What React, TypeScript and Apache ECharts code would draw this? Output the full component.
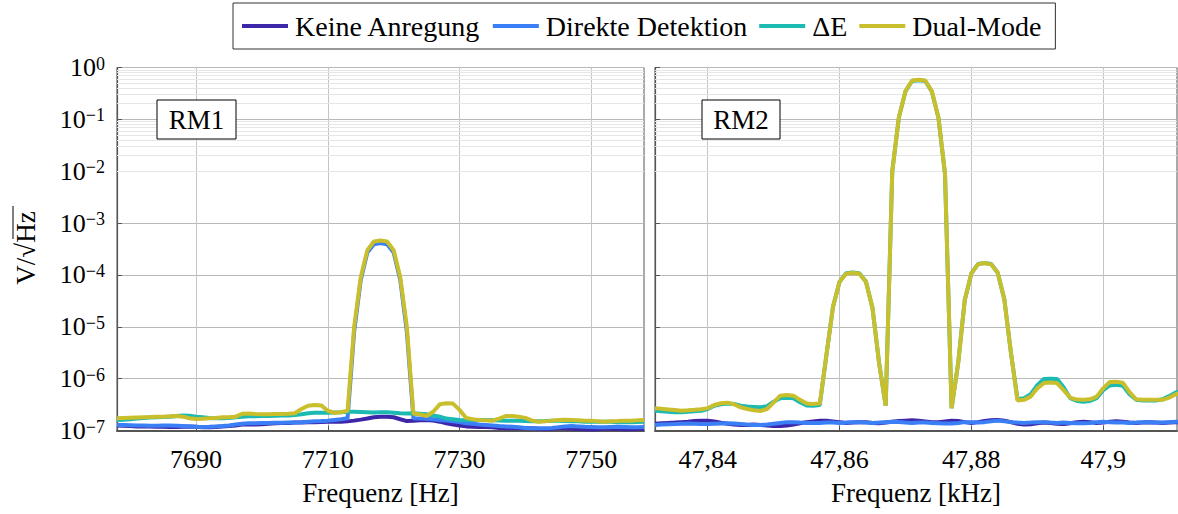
import React, { useEffect, useRef } from 'react';
import * as echarts from 'echarts';

const FONT = 'Liberation Serif, DejaVu Serif, serif';

const seriesNames = ['Keine Anregung', 'Direkte Detektion', 'ΔE', 'Dual-Mode'];
const seriesColors = ['#3e26a8', '#3a7ff6', '#1bbab3', '#c9bf2c'];

const rm1TickValues = [7690, 7710, 7730, 7750];
const rm2TickValues = [47.84, 47.86, 47.88, 47.9];

const rm1Freq = [
  7678, 7679, 7680, 7681, 7682, 7683, 7684, 7685, 7686, 7687,
  7688, 7689, 7690, 7691, 7692, 7693, 7694, 7695, 7696, 7697,
  7698, 7699, 7700, 7701, 7702, 7703, 7704, 7705, 7706, 7707,
  7708, 7709, 7710, 7711, 7712, 7713, 7714, 7715, 7716, 7717,
  7718, 7719, 7720, 7721, 7722, 7723, 7724, 7725, 7726, 7727,
  7728, 7729, 7730, 7731, 7732, 7733, 7734, 7735, 7736, 7737,
  7738, 7739, 7740, 7741, 7742, 7743, 7744, 7745, 7746, 7747,
  7748, 7749, 7750, 7751, 7752, 7753, 7754, 7755, 7756, 7757,
  7758,
];

const rm1Keine = [
  1.25e-7, 1.24e-7, 1.22e-7, 1.2e-7, 1.2e-7, 1.2e-7, 1.18e-7, 1.18e-7, 1.17e-7, 1.17e-7,
  1.18e-7, 1.2e-7, 1.18e-7, 1.15e-7, 1.15e-7, 1.17e-7, 1.2e-7, 1.22e-7, 1.25e-7, 1.3e-7,
  1.32e-7, 1.3e-7, 1.32e-7, 1.35e-7, 1.38e-7, 1.4e-7, 1.4e-7, 1.42e-7, 1.42e-7, 1.45e-7,
  1.45e-7, 1.46e-7, 1.47e-7, 1.47e-7, 1.48e-7, 1.5e-7, 1.55e-7, 1.62e-7, 1.7e-7, 1.8e-7,
  1.85e-7, 1.85e-7, 1.8e-7, 1.65e-7, 1.52e-7, 1.55e-7, 1.58e-7, 1.6e-7, 1.55e-7, 1.48e-7,
  1.38e-7, 1.3e-7, 1.25e-7, 1.2e-7, 1.18e-7, 1.17e-7, 1.17e-7, 1.15e-7, 1.12e-7, 1.1e-7,
  1.1e-7, 1.1e-7, 1.1e-7, 1.1e-7, 1.08e-7, 1.07e-7, 1.08e-7, 1.1e-7, 1.1e-7, 1.08e-7,
  1.07e-7, 1.06e-7, 1.05e-7, 1.06e-7, 1.08e-7, 1.08e-7, 1.07e-7, 1.06e-7, 1.06e-7, 1.07e-7,
  1.08e-7,
];

const rm1Direkt = [
  1.28e-7, 1.27e-7, 1.26e-7, 1.25e-7, 1.25e-7, 1.24e-7, 1.24e-7, 1.25e-7, 1.25e-7, 1.24e-7,
  1.22e-7, 1.2e-7, 1.18e-7, 1.17e-7, 1.18e-7, 1.2e-7, 1.22e-7, 1.25e-7, 1.3e-7, 1.35e-7,
  1.38e-7, 1.38e-7, 1.4e-7, 1.4e-7, 1.41e-7, 1.41e-7, 1.42e-7, 1.43e-7, 1.45e-7, 1.48e-7,
  1.5e-7, 1.52e-7, 1.55e-7, 1.6e-7, 1.65e-7, 1.72e-7, 8e-6, 8e-5, 2.7e-4, 3.9e-4,
  4.1e-4, 3.9e-4, 2.7e-4, 8e-5, 8e-6, 1.72e-7, 1.7e-7, 1.68e-7, 1.65e-7, 1.6e-7,
  1.55e-7, 1.5e-7, 1.45e-7, 1.38e-7, 1.35e-7, 1.3e-7, 1.28e-7, 1.25e-7, 1.22e-7, 1.2e-7,
  1.18e-7, 1.15e-7, 1.12e-7, 1.1e-7, 1.1e-7, 1.1e-7, 1.12e-7, 1.15e-7, 1.2e-7, 1.22e-7,
  1.2e-7, 1.18e-7, 1.17e-7, 1.15e-7, 1.15e-7, 1.17e-7, 1.18e-7, 1.17e-7, 1.15e-7, 1.15e-7,
  1.17e-7,
];

const rm1Delta = [
  1.6e-7, 1.62e-7, 1.65e-7, 1.7e-7, 1.75e-7, 1.78e-7, 1.8e-7, 1.82e-7, 1.85e-7, 1.9e-7,
  1.95e-7, 1.93e-7, 1.85e-7, 1.8e-7, 1.75e-7, 1.72e-7, 1.72e-7, 1.75e-7, 1.8e-7, 1.85e-7,
  1.88e-7, 1.88e-7, 1.9e-7, 1.9e-7, 1.92e-7, 1.95e-7, 1.95e-7, 2.0e-7, 2.05e-7, 2.15e-7,
  2.2e-7, 2.2e-7, 2.2e-7, 2.22e-7, 2.25e-7, 2.3e-7, 2.3e-7, 2.28e-7, 2.25e-7, 2.22e-7,
  2.25e-7, 2.25e-7, 2.2e-7, 2.15e-7, 2.12e-7, 2.15e-7, 2.1e-7, 2.05e-7, 1.95e-7, 1.85e-7,
  1.7e-7, 1.65e-7, 1.6e-7, 1.58e-7, 1.6e-7, 1.6e-7, 1.6e-7, 1.58e-7, 1.56e-7, 1.55e-7,
  1.55e-7, 1.55e-7, 1.52e-7, 1.5e-7, 1.5e-7, 1.52e-7, 1.55e-7, 1.55e-7, 1.53e-7, 1.5e-7,
  1.5e-7, 1.48e-7, 1.47e-7, 1.47e-7, 1.48e-7, 1.47e-7, 1.45e-7, 1.45e-7, 1.45e-7, 1.46e-7,
  1.47e-7,
];

const rm1Dual = [
  1.72e-7, 1.74e-7, 1.76e-7, 1.78e-7, 1.8e-7, 1.82e-7, 1.85e-7, 1.85e-7, 1.88e-7, 1.9e-7,
  1.85e-7, 1.72e-7, 1.67e-7, 1.68e-7, 1.72e-7, 1.75e-7, 1.8e-7, 1.8e-7, 1.85e-7, 2.1e-7,
  2.12e-7, 2.08e-7, 2.05e-7, 2.05e-7, 2.07e-7, 2.08e-7, 2.1e-7, 2.15e-7, 2.6e-7, 3.0e-7,
  3.1e-7, 3.05e-7, 2.4e-7, 2.2e-7, 2.25e-7, 2.4e-7, 1e-5, 9e-5, 3e-4, 4.4e-4,
  4.6e-4, 4.4e-4, 3e-4, 9e-5, 1e-5, 2.1e-7, 2.05e-7, 1.9e-7, 2.3e-7, 3.2e-7,
  3.35e-7, 3.3e-7, 2.5e-7, 1.75e-7, 1.65e-7, 1.6e-7, 1.58e-7, 1.55e-7, 1.7e-7, 1.9e-7,
  1.9e-7, 1.85e-7, 1.75e-7, 1.55e-7, 1.48e-7, 1.5e-7, 1.55e-7, 1.6e-7, 1.62e-7, 1.6e-7,
  1.58e-7, 1.55e-7, 1.55e-7, 1.5e-7, 1.48e-7, 1.5e-7, 1.52e-7, 1.55e-7, 1.55e-7, 1.57e-7,
  1.6e-7,
];

const rm2Freq = [
  47.832, 47.833, 47.834, 47.835, 47.836, 47.837, 47.838, 47.839, 47.84, 47.841,
  47.842, 47.843, 47.844, 47.845, 47.846, 47.847, 47.848, 47.849, 47.85, 47.851,
  47.852, 47.853, 47.854, 47.855, 47.856, 47.857, 47.858, 47.859, 47.86, 47.861,
  47.862, 47.863, 47.864, 47.865, 47.866, 47.867, 47.868, 47.869, 47.87, 47.871,
  47.872, 47.873, 47.874, 47.875, 47.876, 47.877, 47.878, 47.879, 47.88, 47.881,
  47.882, 47.883, 47.884, 47.885, 47.886, 47.887, 47.888, 47.889, 47.89, 47.891,
  47.892, 47.893, 47.894, 47.895, 47.896, 47.897, 47.898, 47.899, 47.9, 47.901,
  47.902, 47.903, 47.904, 47.905, 47.906, 47.907, 47.908, 47.909, 47.91, 47.911,
  47.912,
];

const rm2Keine = [
  1.35e-7, 1.38e-7, 1.4e-7, 1.42e-7, 1.45e-7, 1.48e-7, 1.52e-7, 1.55e-7, 1.55e-7, 1.5e-7,
  1.42e-7, 1.35e-7, 1.3e-7, 1.28e-7, 1.28e-7, 1.3e-7, 1.28e-7, 1.25e-7, 1.22e-7, 1.22e-7,
  1.25e-7, 1.3e-7, 1.38e-7, 1.45e-7, 1.5e-7, 1.55e-7, 1.55e-7, 1.5e-7, 1.45e-7, 1.4e-7,
  1.42e-7, 1.45e-7, 1.45e-7, 1.4e-7, 1.38e-7, 1.42e-7, 1.48e-7, 1.52e-7, 1.55e-7, 1.58e-7,
  1.55e-7, 1.5e-7, 1.45e-7, 1.45e-7, 1.5e-7, 1.55e-7, 1.52e-7, 1.45e-7, 1.4e-7, 1.45e-7,
  1.52e-7, 1.58e-7, 1.6e-7, 1.55e-7, 1.45e-7, 1.35e-7, 1.3e-7, 1.32e-7, 1.38e-7, 1.42e-7,
  1.4e-7, 1.35e-7, 1.33e-7, 1.38e-7, 1.45e-7, 1.48e-7, 1.45e-7, 1.4e-7, 1.42e-7, 1.48e-7,
  1.5e-7, 1.48e-7, 1.42e-7, 1.4e-7, 1.42e-7, 1.45e-7, 1.42e-7, 1.4e-7, 1.42e-7, 1.45e-7,
  1.45e-7,
];

const rm2Direkt = [
  1.28e-7, 1.3e-7, 1.32e-7, 1.33e-7, 1.35e-7, 1.36e-7, 1.35e-7, 1.33e-7, 1.33e-7, 1.35e-7,
  1.37e-7, 1.38e-7, 1.36e-7, 1.33e-7, 1.3e-7, 1.28e-7, 1.28e-7, 1.3e-7, 1.35e-7, 1.4e-7,
  1.45e-7, 1.45e-7, 1.42e-7, 1.4e-7, 1.4e-7, 1.4e-7, 1.42e-7, 1.42e-7, 1.4e-7, 1.42e-7,
  1.45e-7, 1.45e-7, 1.42e-7, 1.4e-7, 1.42e-7, 1.45e-7, 1.48e-7, 1.46e-7, 1.42e-7, 1.4e-7,
  1.42e-7, 1.42e-7, 1.4e-7, 1.38e-7, 1.36e-7, 1.36e-7, 1.4e-7, 1.45e-7, 1.45e-7, 1.42e-7,
  1.45e-7, 1.5e-7, 1.55e-7, 1.5e-7, 1.45e-7, 1.42e-7, 1.4e-7, 1.42e-7, 1.45e-7, 1.45e-7,
  1.42e-7, 1.4e-7, 1.42e-7, 1.4e-7, 1.38e-7, 1.38e-7, 1.4e-7, 1.45e-7, 1.48e-7, 1.45e-7,
  1.42e-7, 1.42e-7, 1.4e-7, 1.42e-7, 1.45e-7, 1.45e-7, 1.42e-7, 1.42e-7, 1.45e-7, 1.48e-7,
  1.48e-7,
];

const rm2Delta = [
  2.4e-7, 2.35e-7, 2.3e-7, 2.25e-7, 2.25e-7, 2.3e-7, 2.35e-7, 2.4e-7, 2.6e-7, 3.0e-7,
  3.2e-7, 3.3e-7, 3.25e-7, 3.0e-7, 2.9e-7, 2.85e-7, 2.8e-7, 2.95e-7, 3.6e-7, 4.2e-7,
  4.3e-7, 4.2e-7, 3.5e-7, 3.05e-7, 3.0e-7, 3.1e-7, 2.8e-6, 2.4e-5, 7.4e-5, 1.08e-4,
  1.12e-4, 1.08e-4, 7.5e-5, 2.3e-5, 2.0e-6, 3.0e-7, 1e-2, 1.08e-1, 3.45e-1, 5.5e-1,
  5.7e-1, 5.5e-1, 3.45e-1, 1.08e-1, 8.8e-3, 2.7e-7, 2.0e-6, 3.3e-5, 1.07e-4, 1.62e-4,
  1.7e-4, 1.62e-4, 1.1e-4, 3.4e-5, 3.2e-6, 4.0e-7, 4.2e-7, 5.0e-7, 7.5e-7, 9.8e-7,
  1.0e-6, 9.8e-7, 6.8e-7, 4.2e-7, 3.7e-7, 3.6e-7, 3.7e-7, 4.2e-7, 6.0e-7, 7.4e-7,
  7.6e-7, 7.3e-7, 5.0e-7, 3.9e-7, 3.8e-7, 3.8e-7, 3.8e-7, 4.0e-7, 4.6e-7, 5.4e-7,
  5.8e-7,
];

const rm2Dual = [
  2.7e-7, 2.62e-7, 2.55e-7, 2.48e-7, 2.41e-7, 2.45e-7, 2.5e-7, 2.56e-7, 2.7e-7, 3.1e-7,
  3.35e-7, 3.44e-7, 3.2e-7, 2.8e-7, 2.6e-7, 2.45e-7, 2.38e-7, 2.6e-7, 3.5e-7, 4.7e-7,
  4.85e-7, 4.7e-7, 3.9e-7, 3.3e-7, 3.25e-7, 3.3e-7, 2.8e-6, 2.4e-5, 7.4e-5, 1.05e-4,
  1.1e-4, 1.05e-4, 7.4e-5, 2.3e-5, 2.0e-6, 3.0e-7, 1e-2, 1.1e-1, 3.5e-1, 5.6e-1,
  5.8e-1, 5.6e-1, 3.5e-1, 1.1e-1, 9e-3, 2.7e-7, 2.0e-6, 3.3e-5, 1.07e-4, 1.6e-4,
  1.7e-4, 1.6e-4, 1.1e-4, 3.4e-5, 3.2e-6, 3.8e-7, 3.9e-7, 4.5e-7, 6.5e-7, 8.2e-7,
  8.4e-7, 8.2e-7, 6.0e-7, 4.3e-7, 3.95e-7, 3.9e-7, 4.0e-7, 4.5e-7, 6.5e-7, 8.6e-7,
  8.7e-7, 8.3e-7, 5.5e-7, 4.0e-7, 3.9e-7, 3.9e-7, 3.9e-7, 3.9e-7, 4.3e-7, 5.0e-7,
  5.4e-7,
];

const rm1Values = [rm1Keine, rm1Direkt, rm1Delta, rm1Dual];
const rm2Values = [rm2Keine, rm2Direkt, rm2Delta, rm2Dual];

function minorValues(): number[] {
  const out: number[] = [];
  for (let e = -7; e < 0; e++) {
    for (let m = 2; m <= 9; m++) out.push(m * Math.pow(10, e));
  }
  return out;
}

function supLabel(v: number) {
  const e = Math.round(Math.log10(v));
  const s = e < 0 ? '\u2212' + Math.abs(e) : String(e);
  return `{b|10}{s|${s}}`;
}

export default function App() {
  const ref = useRef<HTMLDivElement>(null);

  useEffect(() => {
    if (!ref.current) return;
    const chart = echarts.init(ref.current, undefined, { renderer: 'svg' });

    const yAxis = (gridIndex: number, showLabels: boolean) => ({
      type: 'log',
      logBase: 10,
      gridIndex,
      min: 1e-7,
      max: 1,
      axisLine: { show: true, onZero: false, lineStyle: { color: '#555', width: 1.2 } },
      axisTick: { show: true, inside: true, length: 5, lineStyle: { color: '#555' } },
      axisLabel: {
        show: showLabels,
        margin: 12,
        formatter: supLabel,
        rich: {
          b: { fontSize: 26, fontFamily: FONT, color: '#000', lineHeight: 26 },
          s: { fontSize: 18, fontFamily: FONT, color: '#000', lineHeight: 18, verticalAlign: 'top' },
        },
      },
      splitLine: { show: true, lineStyle: { color: '#b8b8b8', width: 1 } },
    });

    const xAxis = (gridIndex: number, min: number, max: number, ticks: number[], name: string, fmt: (v: number) => string) => ({
      type: 'value',
      gridIndex,
      min,
      max,
      name,
      nameLocation: 'middle',
      nameGap: 49,
      nameTextStyle: { fontSize: 27, fontFamily: FONT, color: '#000' },
      axisLine: { show: true, onZero: false, lineStyle: { color: '#555', width: 2 } },
      axisTick: { show: true, inside: true, length: 5, customValues: ticks, lineStyle: { color: '#555' } },
      axisLabel: { fontSize: 26, fontFamily: FONT, color: '#000', margin: 16, customValues: ticks, formatter: fmt },
      splitLine: { show: true, lineStyle: { color: '#c4c4c4', width: 1 } },
    });

    const series: any[] = [];
    const minor = minorValues();
    [0, 1].forEach((p) => {
      series.push({
        name: '_minor' + p,
        type: 'line',
        xAxisIndex: p,
        yAxisIndex: p,
        data: [],
        z: 1,
        silent: true,
        markLine: {
          silent: true,
          symbol: ['none', 'none'],
          label: { show: false },
          lineStyle: { color: '#e6e6e6', type: 'solid', width: 1 },
          data: minor.map((v) => ({ yAxis: v })),
        },
      });
    });
    const panels = [
      { freq: rm1Freq, vals: rm1Values },
      { freq: rm2Freq, vals: rm2Values },
    ];
    panels.forEach((pd, p) => {
      seriesNames.forEach((name, i) => {
        series.push({
          name,
          type: 'line',
          xAxisIndex: p,
          yAxisIndex: p,
          showSymbol: false,
          symbol: 'none',
          z: 3 + i,
          lineStyle: { width: 4, color: seriesColors[i] },
          itemStyle: { color: seriesColors[i] },
          data: pd.freq.map((f, j) => [f, pd.vals[i][j]]),
        });
      });
    });

    chart.setOption({
      animation: false,
      backgroundColor: '#fff',
      legend: {
        data: seriesNames,
        left: 233,
        top: 3,
        padding: [8, 14, 8, 9],
        itemGap: 12,
        itemWidth: 46,
        itemHeight: 4,
        icon: 'rect',
        borderColor: '#333',
        borderWidth: 1,
        backgroundColor: '#fff',
        textStyle: { fontSize: 28, fontFamily: FONT, color: '#000', lineHeight: 30, padding: [0, 0, 0, 2] },
      },
      grid: [
        { left: 117, top: 67.5, width: 527, height: 363, show: true, borderColor: '#555', borderWidth: 1 },
        { left: 655, top: 67.5, width: 522, height: 363, show: true, borderColor: '#555', borderWidth: 1 },
      ],
      xAxis: [
        xAxis(0, 7678, 7758, rm1TickValues, 'Frequenz [Hz]', (v: number) => String(v)),
        xAxis(1, 47.832, 47.9112, rm2TickValues, 'Frequenz [kHz]', (v: number) => String(Math.round(v * 1000) / 1000).replace('.', ',')),
      ],
      yAxis: [yAxis(0, true), yAxis(1, false)],
      series,
      graphic: [
        { type: 'rect', z: 100, shape: { x: 157, y: 100, width: 79, height: 39 }, style: { fill: '#fff', stroke: '#000', lineWidth: 1 } },
        { type: 'text', z: 101, x: 196.5, y: 120, style: { text: 'RM1', fontSize: 27, fontFamily: FONT, fill: '#000', align: 'center', verticalAlign: 'middle' } },
        { type: 'rect', z: 100, shape: { x: 702, y: 100, width: 78, height: 39 }, style: { fill: '#fff', stroke: '#000', lineWidth: 1 } },
        { type: 'text', z: 101, x: 741, y: 120, style: { text: 'RM2', fontSize: 27, fontFamily: FONT, fill: '#000', align: 'center', verticalAlign: 'middle' } },
        {
          type: 'group',
          x: 26,
          y: 248,
          rotation: Math.PI / 2,
          children: [
            { type: 'text', x: 0, y: 0, style: { text: 'V/√Hz', fontSize: 27, fontFamily: FONT, fill: '#000', align: 'center', verticalAlign: 'middle' } },
            { type: 'line', shape: { x1: 9, y1: -13, x2: 42, y2: -13 }, style: { stroke: '#000', lineWidth: 1 } },
          ],
        },
      ],
    });

    return () => chart.dispose();
  }, []);

  return <div ref={ref} style={{ position: 'fixed', left: 0, top: 0, width: 1178, height: 514 }} />;
}
